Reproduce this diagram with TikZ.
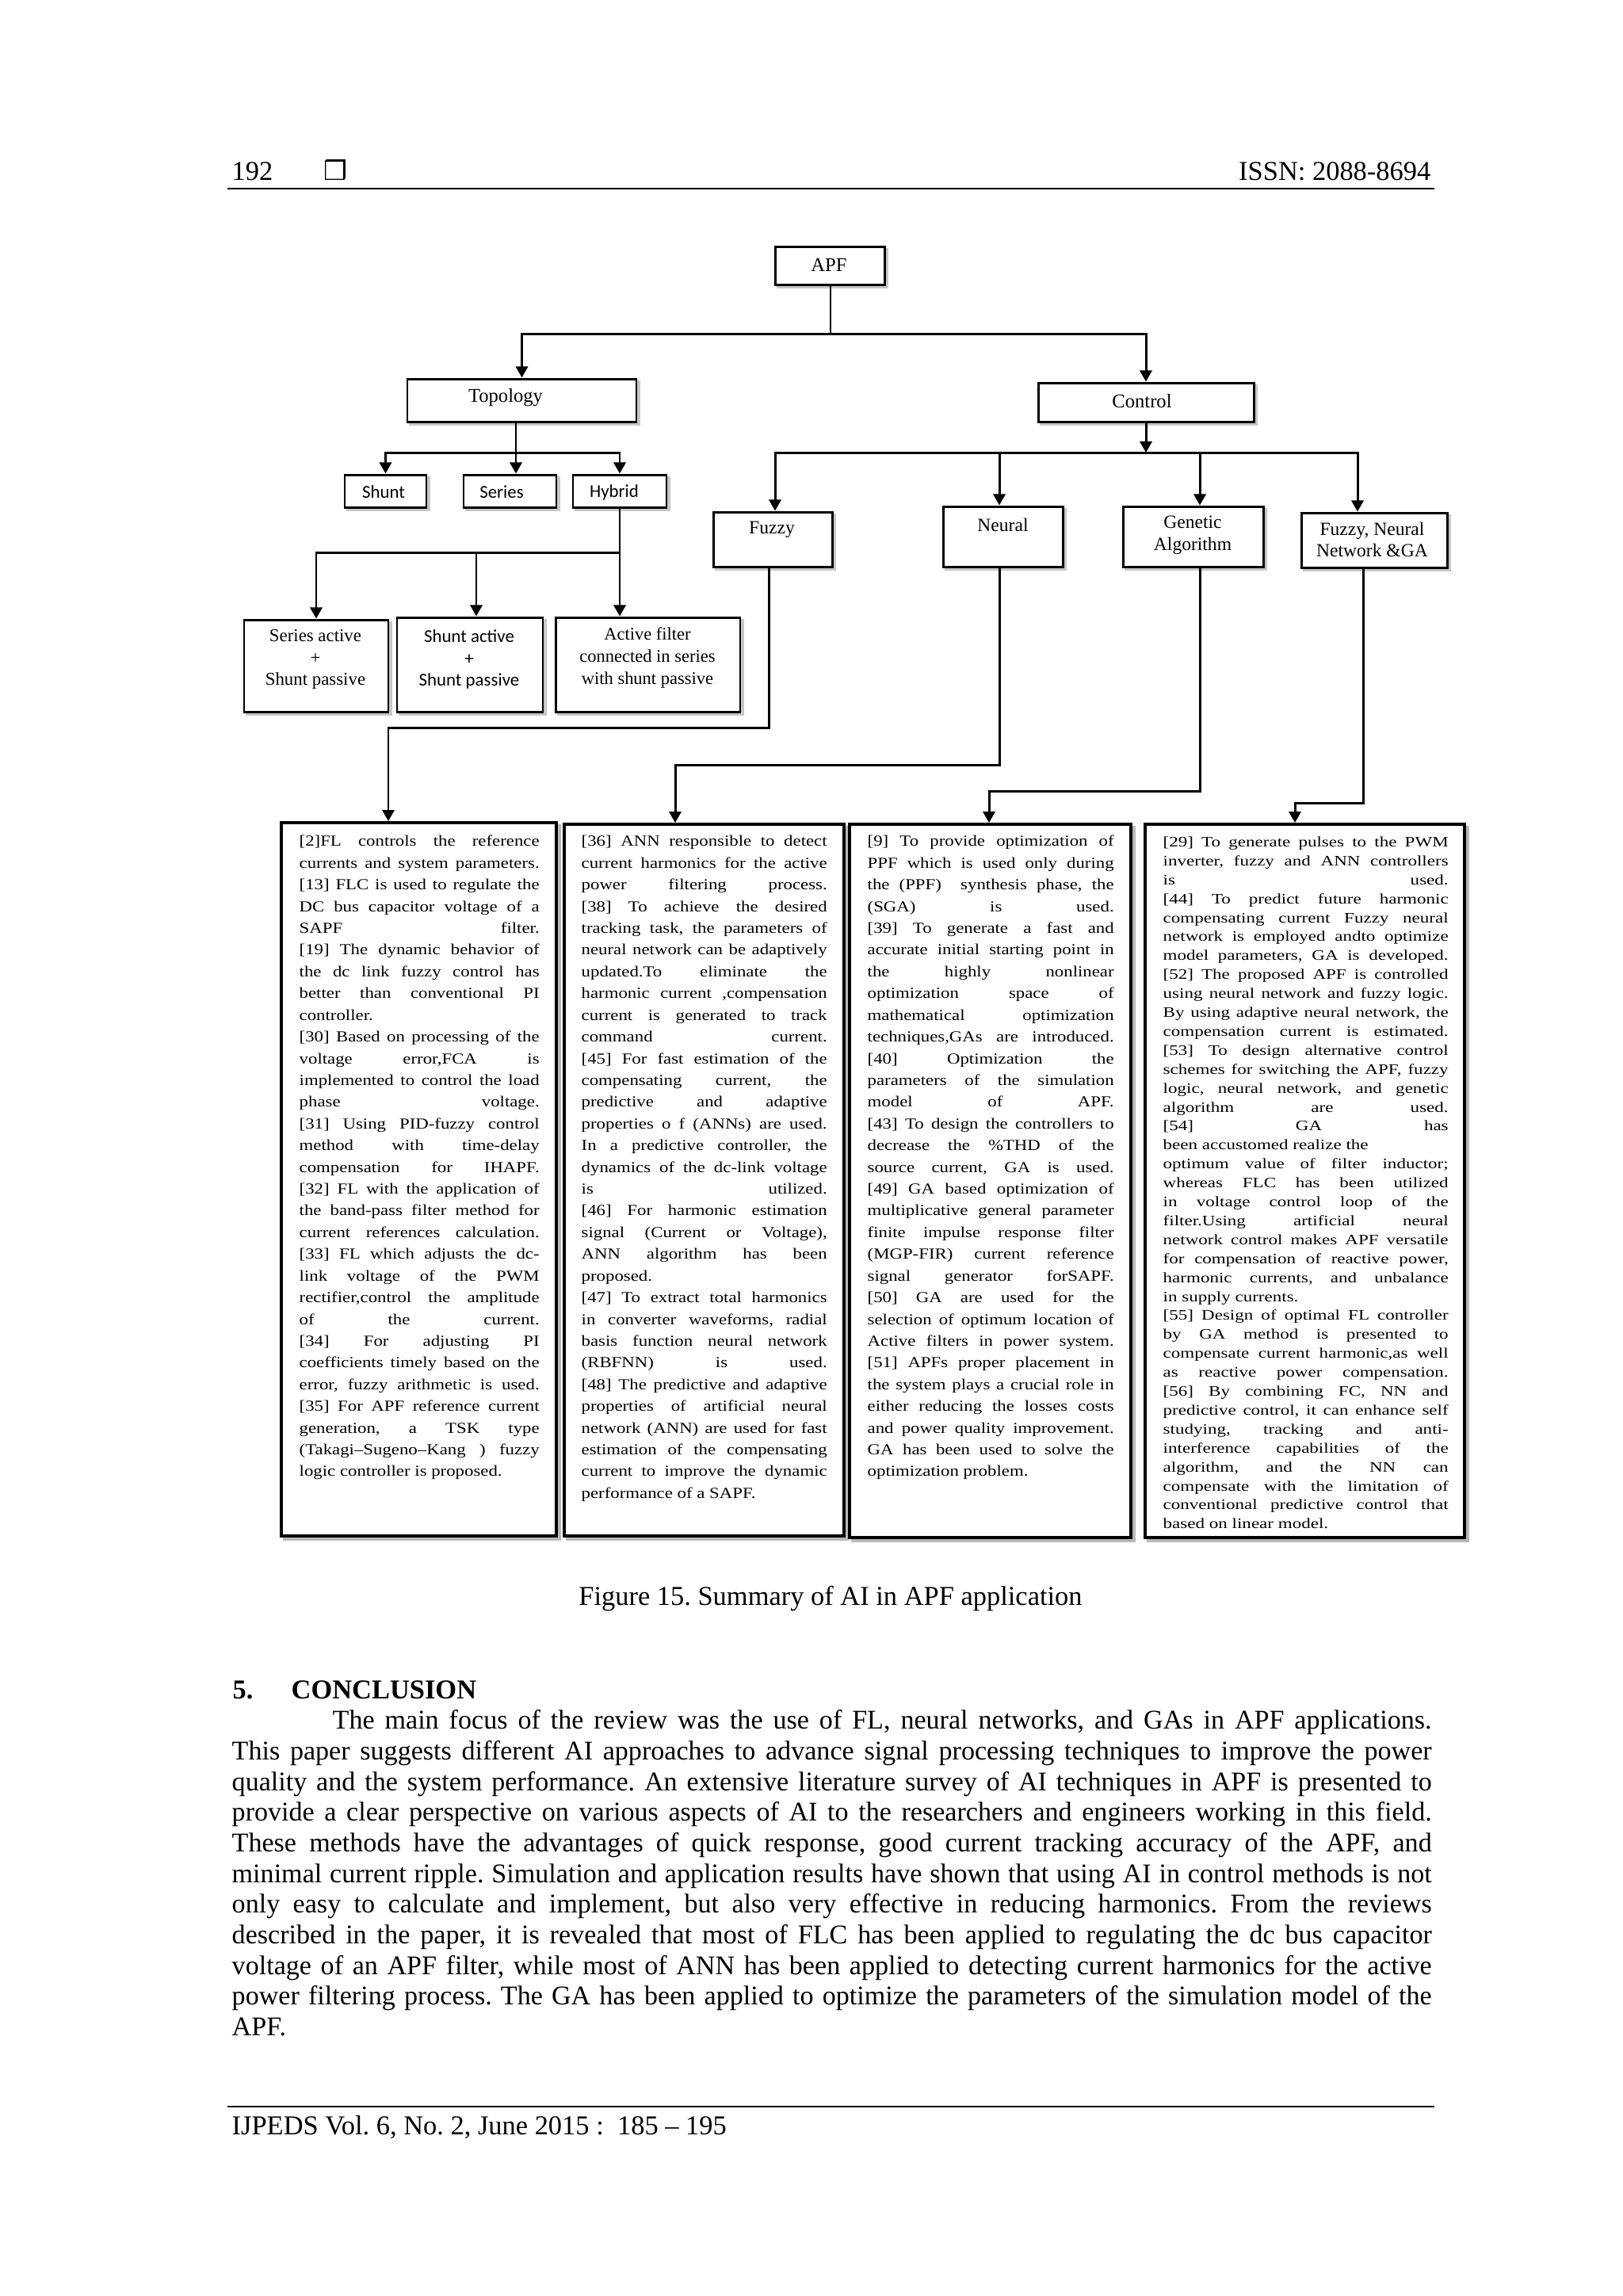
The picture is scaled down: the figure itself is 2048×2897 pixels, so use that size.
\documentclass[tikz,border=0pt]{standalone}
\usepackage{fontspec}
\setmainfont{Liberation Serif}
\newfontfamily\boxfont[FakeStretch=1.18]{Liberation Serif}
\newfontfamily\boxfontw[FakeStretch=1.26]{Liberation Serif}
\newfontfamily\calfont{Carlito}
\newfontfamily\symfont{DejaVu Sans}
\usetikzlibrary{arrows.meta}
\tolerance=10000
\hbadness=10000
\vbadness=10000
\hfuzz=3pt
\frenchspacing
\newcommand\jl{\linebreak[4]}
\tikzset{
  shbox/.style={draw=black, line width=0.85pt, fill=white, inner sep=0pt,
    preaction={draw=black!22, fill=black!22, line width=0.85pt,
      transform canvas={shift={(0.9pt,-0.9pt)}}}},
  tbox/.style={draw=black, line width=1.1pt, fill=white, inner sep=0pt,
    preaction={draw=black!28, fill=black!28, line width=1.1pt,
      transform canvas={shift={(1.2pt,-1.2pt)}}}},
  conn/.style={draw=black, line width=0.85pt},
  thinconn/.style={draw=black, line width=0.55pt},
  arr/.style={-{Triangle[width=4.3pt,length=4pt]}},
  lblA/.style={inner sep=0pt, align=center, font=\fontsize{7}{8.2}\selectfont},
  lblF/.style={inner sep=0pt, align=center, font=\fontsize{6.7}{7.9}\selectfont},
  lblC/.style={inner sep=0pt, align=center, font=\calfont\fontsize{6.5}{7.9}\selectfont},
  lblS/.style={inner sep=0pt, align=center, font=\fontsize{6.5}{7.9}\selectfont},
  txtA/.style={inner sep=0pt, anchor=north west, align=justify, font=\boxfont\fontsize{5.5}{7.8}\selectfont\frenchspacing},
  txtB/.style={inner sep=0pt, anchor=north west, align=justify, font=\boxfontw\fontsize{5.2}{6.8}\selectfont\frenchspacing},
  page/.style={inner sep=0pt, font=\fontsize{9.8}{11}\selectfont},
}
\begin{document}
\begin{tikzpicture}[x=0.1mm, y=-0.1mm]
\useasboundingbox (0,0) rectangle (2048,2897);
\fill[white] (0,0) rectangle (2048,2897);

% ---------- page header ----------
\node[page, anchor=base west] (pnum) at (292,227) {192};
\node[inner sep=0pt, anchor=base west, font=\symfont\fontsize{9.5}{10}\selectfont] (psym) at (408,227) {❒};
\node[page, anchor=base east] (issn) at (1806,227) {ISSN: 2088-8694};
\draw[line width=0.6pt] (287,238) -- (1810,238);

% ---------- diagram boxes ----------
\node[shbox, minimum width=13.8mm, minimum height=4.8mm] (apf) at (1047,335) {};
\node[shbox, minimum width=28.9mm, minimum height=5.4mm] (topo) at (658.5,505) {};
\node[shbox, minimum width=27.2mm, minimum height=4.9mm] (ctrl) at (1446,507.5) {};
\node[shbox, minimum width=10.3mm, minimum height=4.1mm] (shunt) at (486.5,619.5) {};
\node[shbox, minimum width=11.7mm, minimum height=4.1mm] (series) at (643.5,619.5) {};
\node[shbox, minimum width=11.8mm, minimum height=4.1mm] (hybrid) at (782,619.5) {};
\node[shbox, minimum width=18.2mm, minimum height=11.6mm] (seract) at (399,840) {};
\node[shbox, minimum width=18.4mm, minimum height=11.9mm] (shuact) at (593,838.5) {};
\node[shbox, minimum width=23.3mm, minimum height=11.9mm] (active) at (817.5,838.5) {};
\node[shbox, minimum width=15.0mm, minimum height=6.9mm] (fuzzy) at (975,680.5) {};
\node[shbox, minimum width=15.1mm, minimum height=7.6mm] (neural) at (1265.5,677) {};
\node[shbox, minimum width=17.7mm, minimum height=7.6mm] (genetic) at (1505.5,677) {};
\node[shbox, minimum width=18.4mm, minimum height=6.9mm] (fnnga) at (1734,681.5) {};

% ---------- labels ----------
\node[lblA] (apf-t) at (1046,334) {APF};
\node[lblA] (topo-t) at (638,502) {Topology};
\node[lblA] (ctrl-t) at (1441,506) {Control};
\node[lblC] (shunt-t) at (484,621) {Shunt};
\node[lblC] (series-t) at (633,621) {Series};
\node[lblC] (hybrid-t) at (775,621) {Hybrid};
\node[lblS] (seract-t) at (398,832) {Series active\\+\\Shunt passive};
\node[lblC] (shuact-t) at (592,832) {Shunt active\\+\\Shunt passive};
\node[lblS, font=\fontsize{6.4}{7.9}\selectfont] (active-t) at (817,830) {Active filter\\connected in series\\with shunt passive};
\node[lblF] (fuzzy-t) at (974,668) {Fuzzy};
\node[lblF] (neural-t) at (1265.5,662) {Neural};
\node[lblF, font=\fontsize{6.7}{8.1}\selectfont] (genetic-t) at (1505,675) {Genetic\\Algorithm};
\node[lblF] (fnnga-t) at (1731.5,681) {Fuzzy, Neural\\Network \&GA};

% ---------- connectors (top) ----------
\coordinate (jA) at (1048,421);
\draw[thinconn] (apf.south -| jA) -- (jA);
\draw[conn,arr] (jA) -| (topo.north);
\draw[conn,arr] (jA) -| (ctrl.north);

\coordinate (jT) at (651,571);
\draw[conn,arr] (topo.south -| jT) -- (series.north -| jT);
\draw[conn,arr] (jT) -| (shunt.north);
\draw[conn,arr] (jT) -| (hybrid.north);

\coordinate (jH) at (782,697);
\coordinate (xSA) at (601,0);
\draw[conn,arr] (hybrid.south) -- (active.north -| hybrid.south);
\draw[conn,arr] (jH) -| (seract.north);
\draw[conn,arr] (jH) -| (shuact.north -| xSA);

\coordinate (jC) at (1446,571);
\coordinate (xF) at (978,0);
\coordinate (xN) at (1261,0);
\coordinate (xG) at (1514,0);
\coordinate (xM) at (1713,0);
\draw[conn,arr] (ctrl.south) -- (jC);
\draw[conn,arr] (jC) -| (fuzzy.north -| xF);
\draw[conn,arr] (jC) -| (neural.north -| xN);
\draw[conn,arr] (jC) -| (genetic.north -| xG);
\draw[conn,arr] (jC) -| (fnnga.north -| xM);

% ---------- text boxes ----------
\node[tbox, minimum width=34.7mm, minimum height=90.0mm] (b1) at (528.5,1488) {};
\node[tbox, minimum width=35.3mm, minimum height=89.8mm] (b2) at (888.5,1489) {};
\node[tbox, minimum width=35.5mm, minimum height=90.0mm] (b3) at (1249.5,1490) {};
\node[tbox, minimum width=40.3mm, minimum height=90.0mm] (b4) at (1646.5,1490) {};

% ---------- connectors (bottom) ----------
\coordinate (kF1) at (970,918);  \coordinate (kF2) at (490,918);
\coordinate (kN1) at (1261,965); \coordinate (kN2) at (852,965);
\coordinate (kG1) at (1514,998); \coordinate (kG2) at (1248,998);
\coordinate (kM1) at (1720,1013); \coordinate (kM2) at (1634,1013);
\draw[conn,arr] (fuzzy.south -| kF1) -- (kF1) -- (kF2) -- (b1.north -| kF2);
\draw[conn,arr] (neural.south -| kN1) -- (kN1) -- (kN2) -- (b2.north -| kN2);
\draw[conn,arr] (genetic.south -| kG1) -- (kG1) -- (kG2) -- (b3.north -| kG2);
\draw[conn,arr] (fnnga.south -| kM1) -- (kM1) -- (kM2) -- (b4.north -| kM2);

% ---------- text in boxes ----------
\node[txtA, text width=30.3mm] (b1-t) at (377,1048) {\strut
[2]FL controls the reference\jl
currents and system parameters.\jl
[13] FLC is used to regulate the\jl
DC bus capacitor voltage of a\jl
SAPF filter.\jl
[19] The dynamic behavior of\jl
the dc link fuzzy control has\jl
better than conventional PI\jl
controller.\newline
[30] Based on processing of the\jl
voltage error,FCA is\jl
implemented to control the load\jl
phase voltage.\jl
[31] Using PID-fuzzy control\jl
method with time-delay\jl
compensation for IHAPF.\jl
[32] FL with the application of\jl
the band-pass filter method for\jl
current references calculation.\jl
[33] FL which adjusts the dc-\jl
link voltage of the PWM\jl
rectifier,control the amplitude\jl
of the current.\jl
[34] For adjusting PI\jl
coefficients timely based on the\jl
error, fuzzy arithmetic is used.\jl
[35] For APF reference current\jl
generation, a TSK type\jl
(Takagi–Sugeno–Kang ) fuzzy\jl
logic controller is proposed.};

\node[txtA, text width=31.0mm] (b2-t) at (733,1048) {\strut
[36] ANN responsible to detect\jl
current harmonics for the active\jl
power filtering process.\jl
[38] To achieve the desired\jl
tracking task, the parameters of\jl
neural network can be adaptively\jl
updated.To eliminate the\jl
harmonic current ,compensation\jl
current is generated to track\jl
command current.\jl
[45] For fast estimation of the\jl
compensating current, the\jl
predictive and adaptive\jl
properties o f (ANNs) are used.\jl
In a predictive controller, the\jl
dynamics of the dc-link voltage\jl
is utilized.\jl
[46] For harmonic estimation\jl
signal (Current or Voltage),\jl
ANN algorithm has been\jl
proposed.\newline
[47] To extract total harmonics\jl
in converter waveforms, radial\jl
basis function neural network\jl
(RBFNN) is used.\jl
[48] The predictive and adaptive\jl
properties of artificial neural\jl
network (ANN) are used for fast\jl
estimation of the compensating\jl
current to improve the dynamic\jl
performance of a SAPF.};

\node[txtA, text width=31.1mm] (b3-t) at (1094,1048) {\strut
[9] To provide optimization of\jl
PPF which is used only during\jl
the (PPF) \ synthesis phase, the\jl
(SGA) is used.\jl
[39] To generate a fast and\jl
accurate initial starting point in\jl
the highly nonlinear\jl
optimization space of\jl
mathematical optimization\jl
techniques,GAs are introduced.\jl
[40] Optimization the\jl
parameters of the simulation\jl
model of APF.\jl
[43] To design the controllers to\jl
decrease the \%THD of the\jl
source current, GA is used.\jl
[49] GA based optimization of\jl
multiplicative general parameter\jl
finite impulse response filter\jl
(MGP-FIR) current reference\jl
signal generator forSAPF.\jl
[50] GA are used for the\jl
selection of optimum location of\jl
Active filters in power system.\jl
[51] APFs proper placement in\jl
the system plays a crucial role in\jl
either reducing the losses costs\jl
and power quality improvement.\jl
GA has been used to solve the\jl
optimization problem.};

\node[txtB, text width=36.0mm] (b4-t) at (1467,1051) {\strut
[29] To generate pulses to the PWM\jl
inverter, fuzzy and ANN controllers\jl
is used.\jl
[44] To predict future harmonic\jl
compensating current Fuzzy neural\jl
network is employed andto optimize\jl
model parameters, GA is developed.\jl
[52] The proposed APF is controlled\jl
using neural network and fuzzy logic.\jl
By using adaptive neural network, the\jl
compensation current is estimated.\jl
[53] To design alternative control\jl
schemes for switching the APF, fuzzy\jl
logic, neural network, and genetic\jl
algorithm are used.\jl
[54] GA has\jl
been accustomed realize the\newline
optimum value of filter inductor;\jl
whereas FLC has been utilized\jl
in voltage control loop of the\jl
filter.Using artificial neural\jl
network control makes APF versatile\jl
for compensation of reactive power,\jl
harmonic currents, and unbalance\jl
in supply currents.\newline
[55] Design of optimal FL controller\jl
by GA method is presented to\jl
compensate current harmonic,as well\jl
as reactive power compensation.\jl
[56] By combining FC, NN and\jl
predictive control, it can enhance self\jl
studying, tracking and anti-\jl
interference capabilities of the\jl
algorithm, and the NN can\jl
compensate with the limitation of\jl
conventional predictive control that\jl
based on linear model.};

% ---------- caption and conclusion ----------
\node[page, anchor=base] (cap) at (1048,2025) {Figure 15. Summary of AI in APF application};
\node[page, anchor=base west, font=\bfseries\fontsize{9.8}{11}\selectfont] (secn) at (293,2143) {5.};
\node[page, anchor=base west, font=\bfseries\fontsize{9.8}{11}\selectfont] (sect) at (367,2143) {CONCLUSION};
\node[inner sep=0pt, anchor=north west, text width=151.4mm, align=justify,
      font=\fontsize{9.7}{11.0}\selectfont\frenchspacing] (body) at (292,2154) {\strut\hspace*{12.7mm}The main focus of the review was the use of FL, neural networks, and GAs in APF applications.\jl
This paper suggests different AI approaches to advance signal processing techniques to improve the power\jl
quality and the system performance. An extensive literature survey of AI techniques in APF is presented to\jl
provide a clear perspective on various aspects of AI to the researchers and engineers working in this field.\jl
These methods have the advantages of quick response, good current tracking accuracy of the APF, and\jl
minimal current ripple. Simulation and application results have shown that using AI in control methods is not\jl
only easy to calculate and implement, but also very effective in reducing harmonics. From the reviews\jl
described in the paper, it is revealed that most of FLC has been applied to regulating the dc bus capacitor\jl
voltage of an APF filter, while most of ANN has been applied to detecting current harmonics for the active\jl
power filtering process. The GA has been applied to optimize the parameters of the simulation model of the\jl
APF.};

% ---------- footer ----------
\draw[line width=0.4pt] (287,2658) -- (1810,2658);
\node[page, anchor=base west] (foot) at (292,2693) {IJPEDS Vol. 6, No. 2, June 2015 :\ \ 185 – 195};
\end{tikzpicture}
\end{document}
